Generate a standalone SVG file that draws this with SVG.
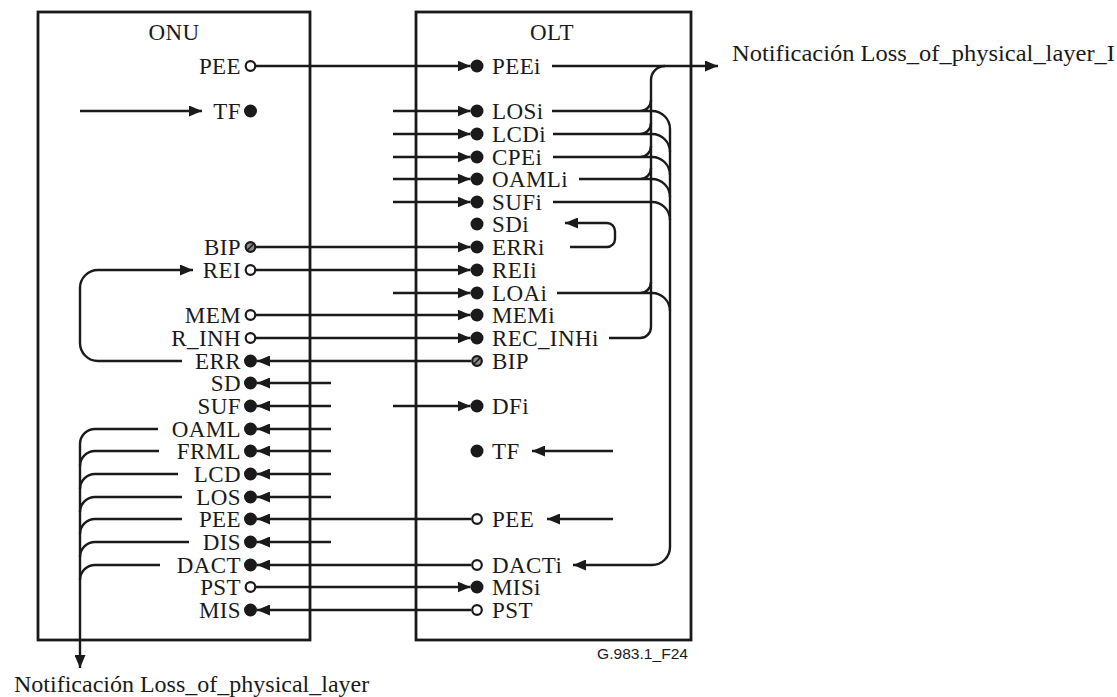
<svg xmlns="http://www.w3.org/2000/svg" xmlns:xlink="http://www.w3.org/1999/xlink" width="1117" height="697" viewBox="0 0 1117 697">
<style>
.box{fill:none;stroke:#1a1a1a;stroke-width:2.8}
.lbl{font-family:"Liberation Serif","Times New Roman",serif;font-size:23px;letter-spacing:0.4px;fill:#1a1a1a}
.end{text-anchor:end}
.mid{text-anchor:middle}
.ln{fill:none;stroke:#1a1a1a;stroke-width:2.4}
.arr{marker-end:url(#ah)}
.dot{fill:#1a1a1a}
.open{fill:#fff;stroke:#1a1a1a;stroke-width:2.2}
.note{font-family:"Liberation Serif","Times New Roman",serif;font-size:24px;fill:#1a1a1a}
.ref{font-family:"Liberation Sans",Arial,sans-serif;font-size:15px;fill:#1a1a1a}
</style>
<defs>
<marker id="ah" markerWidth="13" markerHeight="11" refX="13" refY="5.5" orient="auto" markerUnits="userSpaceOnUse"><path d="M0,0 L13,5.5 L0,11 z" fill="#1a1a1a"/></marker>
<g id="hatch"><circle r="4.8" fill="#8a8a8a" stroke="#1a1a1a" stroke-width="2.2"/><line x1="-3" y1="3" x2="3" y2="-3" stroke="#1a1a1a" stroke-width="1.6"/></g>
</defs>
<rect width="1117" height="697" fill="#fff"/>

<g id="onu">
<rect class="box" x="38" y="12" width="272" height="628"/>
<text class="lbl mid" x="174" y="40">ONU</text>
<g id="onu-pee-out"><text class="lbl end" x="241" y="73.5">PEE</text><circle class="open" cx="250.5" cy="66" r="4.8"/></g>
<g id="onu-tf"><text class="lbl end" x="241" y="118.5">TF</text><circle class="dot" cx="250.5" cy="111" r="6.5"/></g>
<g id="onu-bip"><text class="lbl end" x="241" y="254.5">BIP</text><use xlink:href="#hatch" x="250.5" y="247"/></g>
<g id="onu-rei"><text class="lbl end" x="241" y="277.5">REI</text><circle class="open" cx="250.5" cy="270" r="4.8"/></g>
<g id="onu-mem"><text class="lbl end" x="241" y="322.5">MEM</text><circle class="open" cx="250.5" cy="315" r="4.8"/></g>
<g id="onu-rinh"><text class="lbl end" x="241" y="345.5">R_INH</text><circle class="open" cx="250.5" cy="338" r="4.8"/></g>
<g id="onu-err"><text class="lbl end" x="241" y="368.5">ERR</text><circle class="dot" cx="250.5" cy="361" r="6.5"/></g>
<g id="onu-sd"><text class="lbl end" x="241" y="390.5">SD</text><circle class="dot" cx="250.5" cy="383" r="6.5"/></g>
<g id="onu-suf"><text class="lbl end" x="241" y="413.5">SUF</text><circle class="dot" cx="250.5" cy="406" r="6.5"/></g>
<g id="onu-oaml"><text class="lbl end" x="241" y="436.5">OAML</text><circle class="dot" cx="250.5" cy="429" r="6.5"/></g>
<g id="onu-frml"><text class="lbl end" x="241" y="458.5">FRML</text><circle class="dot" cx="250.5" cy="451" r="6.5"/></g>
<g id="onu-lcd"><text class="lbl end" x="241" y="481.5">LCD</text><circle class="dot" cx="250.5" cy="474" r="6.5"/></g>
<g id="onu-los"><text class="lbl end" x="241" y="504.5">LOS</text><circle class="dot" cx="250.5" cy="497" r="6.5"/></g>
<g id="onu-pee-in"><text class="lbl end" x="241" y="526.5">PEE</text><circle class="dot" cx="250.5" cy="519" r="6.5"/></g>
<g id="onu-dis"><text class="lbl end" x="241" y="549.5">DIS</text><circle class="dot" cx="250.5" cy="542" r="6.5"/></g>
<g id="onu-dact"><text class="lbl end" x="241" y="572.5">DACT</text><circle class="dot" cx="250.5" cy="565" r="6.5"/></g>
<g id="onu-pst"><text class="lbl end" x="241" y="594.5">PST</text><circle class="open" cx="250.5" cy="587" r="4.8"/></g>
<g id="onu-mis"><text class="lbl end" x="241" y="617.5">MIS</text><circle class="dot" cx="250.5" cy="610" r="6.5"/></g>
</g>

<g id="olt">
<rect class="box" x="416" y="12" width="275" height="628"/>
<text class="lbl mid" x="552" y="40">OLT</text>
<g id="olt-peei"><circle class="dot" cx="477" cy="66" r="6.5"/><text class="lbl" x="492" y="73.5">PEEi</text></g>
<g id="olt-losi"><circle class="dot" cx="477" cy="111" r="6.5"/><text class="lbl" x="492" y="118.5">LOSi</text></g>
<g id="olt-lcdi"><circle class="dot" cx="477" cy="134" r="6.5"/><text class="lbl" x="492" y="141.5">LCDi</text></g>
<g id="olt-cpei"><circle class="dot" cx="477" cy="157" r="6.5"/><text class="lbl" x="492" y="164.5">CPEi</text></g>
<g id="olt-oamli"><circle class="dot" cx="477" cy="179" r="6.5"/><text class="lbl" x="492" y="186.5">OAMLi</text></g>
<g id="olt-sufi"><circle class="dot" cx="477" cy="202" r="6.5"/><text class="lbl" x="492" y="209.5">SUFi</text></g>
<g id="olt-sdi"><circle class="dot" cx="477" cy="224" r="6.5"/><text class="lbl" x="492" y="231.5">SDi</text></g>
<g id="olt-erri"><circle class="dot" cx="477" cy="247" r="6.5"/><text class="lbl" x="492" y="254.5">ERRi</text></g>
<g id="olt-reii"><circle class="dot" cx="477" cy="270" r="6.5"/><text class="lbl" x="492" y="277.5">REIi</text></g>
<g id="olt-loai"><circle class="dot" cx="477" cy="293" r="6.5"/><text class="lbl" x="492" y="300.5">LOAi</text></g>
<g id="olt-memi"><circle class="dot" cx="477" cy="315" r="6.5"/><text class="lbl" x="492" y="322.5">MEMi</text></g>
<g id="olt-recinhi"><circle class="dot" cx="477" cy="338" r="6.5"/><text class="lbl" x="492" y="345.5">REC_INHi</text></g>
<g id="olt-bip"><use xlink:href="#hatch" x="477" y="361"/><text class="lbl" x="492" y="368.5">BIP</text></g>
<g id="olt-dfi"><circle class="dot" cx="477" cy="406" r="6.5"/><text class="lbl" x="492" y="413.5">DFi</text></g>
<g id="olt-tf"><circle class="dot" cx="477" cy="451" r="6.5"/><text class="lbl" x="492" y="458.5">TF</text></g>
<g id="olt-pee"><circle class="open" cx="477" cy="519" r="4.8"/><text class="lbl" x="492" y="526.5">PEE</text></g>
<g id="olt-dacti"><circle class="open" cx="477" cy="565" r="4.8"/><text class="lbl" x="492" y="572.5">DACTi</text></g>
<g id="olt-misi"><circle class="dot" cx="477" cy="587" r="6.5"/><text class="lbl" x="492" y="594.5">MISi</text></g>
<g id="olt-pst"><circle class="open" cx="477" cy="610" r="4.8"/><text class="lbl" x="492" y="617.5">PST</text></g>
<text class="ref" x="597" y="659" textLength="91" lengthAdjust="spacingAndGlyphs">G.983.1_F24</text>
</g>

<g id="connectors">
<path class="ln arr" d="M256,66 H470.5"/>
<path class="ln arr" d="M256,247 H470.5"/>
<path class="ln arr" d="M256,270 H470.5"/>
<path class="ln arr" d="M256,315 H470.5"/>
<path class="ln arr" d="M256,338 H470.5"/>
<path class="ln arr" d="M256,587 H470.5"/>
<path class="ln arr" d="M393,111 H470.5"/>
<path class="ln arr" d="M393,134 H470.5"/>
<path class="ln arr" d="M393,157 H470.5"/>
<path class="ln arr" d="M393,179 H470.5"/>
<path class="ln arr" d="M393,202 H470.5"/>
<path class="ln arr" d="M393,293 H470.5"/>
<path class="ln arr" d="M393,406 H470.5"/>
<path class="ln arr" d="M471,361 H257"/>
<path class="ln arr" d="M471,519 H257"/>
<path class="ln arr" d="M471,565 H257"/>
<path class="ln arr" d="M471,610 H257"/>
<path class="ln arr" d="M331,383 H257"/>
<path class="ln arr" d="M331,406 H257"/>
<path class="ln arr" d="M331,429 H257"/>
<path class="ln arr" d="M331,451 H257"/>
<path class="ln arr" d="M331,474 H257"/>
<path class="ln arr" d="M331,497 H257"/>
<path class="ln arr" d="M331,542 H257"/>
<path class="ln arr" d="M80,111 H202"/>
<path class="ln arr" d="M182,361 H98 A18,18 0 0 1 80,343 V288 A18,18 0 0 1 98,270 H193"/>
<path class="ln arr" d="M158,429 H95 A15,15 0 0 0 80,444 V668"/>
<path class="ln" d="M159,451 H95 A15,15 0 0 0 80,466"/>
<path class="ln" d="M178,474 H95 A15,15 0 0 0 80,489"/>
<path class="ln" d="M182,497 H95 A15,15 0 0 0 80,512"/>
<path class="ln" d="M182,519 H95 A15,15 0 0 0 80,534"/>
<path class="ln" d="M189,542 H95 A15,15 0 0 0 80,557"/>
<path class="ln" d="M160,565 H95 A15,15 0 0 0 80,580"/>
<path class="ln arr" d="M613,451 H532"/>
<path class="ln arr" d="M613,519 H547"/>
<path class="ln arr" d="M570,247 H607 A8,8 0 0 0 615,239 V231 A8,8 0 0 0 607,223 H565"/>
<path class="ln arr" d="M552,66 H718"/>
<path class="ln" d="M609,338 H640 A11,11 0 0 0 651,327 V80 A14,14 0 0 1 665,66"/>
<path class="ln" d="M552,111 H652 A18,18 0 0 1 670,129 M640,111 A11,11 0 0 0 651,100"/>
<path class="ln" d="M553,134 H652 A18,18 0 0 1 670,152 M640,134 A11,11 0 0 0 651,123"/>
<path class="ln" d="M553,157 H652 A18,18 0 0 1 670,175 M640,157 A11,11 0 0 0 651,146"/>
<path class="ln" d="M579,179 H652 A18,18 0 0 1 670,197 M640,179 A11,11 0 0 0 651,168"/>
<path class="ln" d="M553,202 H652 A18,18 0 0 1 670,220"/>
<path class="ln" d="M557,293 H652 A18,18 0 0 1 670,311 M640,293 A11,11 0 0 0 651,282"/>
<path class="ln arr" d="M670,129 V547 A18,18 0 0 1 652,565 H573"/>
</g>

<text class="note" x="732" y="61" textLength="383" lengthAdjust="spacingAndGlyphs">Notificación Loss_of_physical_layer_I</text>
<text class="note" x="14" y="692">Notificación Loss_of_physical_layer</text>
</svg>
